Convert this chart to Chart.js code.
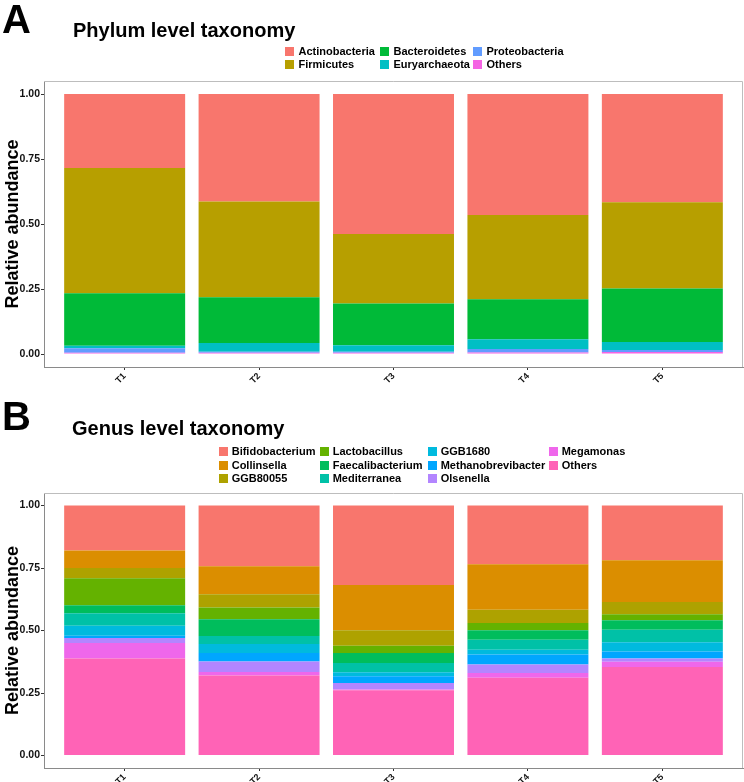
<!DOCTYPE html>
<html><head><meta charset="utf-8">
<script src="https://cdn.jsdelivr.net/npm/chart.js@4/dist/chart.umd.min.js"></script>
<style>
html,body{margin:0;padding:0;background:#fff;}
#wrap{position:relative;width:744px;height:782px;overflow:hidden;font-family:"Liberation Sans",Arial,sans-serif;background:#fff;}
canvas{position:absolute;left:0;}
.lbl{position:absolute;font-weight:bold;color:#000;white-space:nowrap;}
.letter{font-size:40px;line-height:40px;}
.title{font-size:20px;line-height:20px;}
.leg{position:absolute;font-size:11px;line-height:11px;font-weight:bold;white-space:nowrap;color:#000;}
.leg i{position:absolute;left:0;width:9px;height:9px;}
.leg span{position:absolute;top:0;}
</style></head>
<body>
<div id="wrap">
  <div id="cA" style="position:absolute;left:0;top:0;width:744px;height:395px;"><canvas id="chartA" width="744" height="395"></canvas></div>
  <div id="cB" style="position:absolute;left:0;top:395px;width:744px;height:387px;"><canvas id="chartB" width="744" height="387"></canvas></div>
  <div class="lbl letter" style="left:2px;top:-1px;">A</div>
  <div class="lbl title" style="left:73px;top:20px;">Phylum level taxonomy</div>
  <div class="lbl letter" style="left:2px;top:396px;">B</div>
  <div class="lbl title" style="left:72px;top:418px;">Genus level taxonomy</div>
</div>
<script>
// ---------- DATA ----------
const samples = ["T1", "T2", "T3", "T4", "T5"];
const yTicks = [0, 0.25, 0.5, 0.75, 1];

// Panel A: phylum (legend order)
const phylumNames = ["Actinobacteria", "Firmicutes", "Bacteroidetes", "Euryarchaeota", "Proteobacteria", "Others"];
const phylumColors = ["#F8766D", "#B79F00", "#00BA38", "#00BFC4", "#619CFF", "#F564E3"];
const actinobacteria = [0.285, 0.413, 0.538, 0.465, 0.416];
const firmicutes     = [0.481, 0.369, 0.268, 0.324, 0.332];
const bacteroidetes  = [0.202, 0.176, 0.160, 0.154, 0.206];
const euryarchaeota  = [0.010, 0.033, 0.025, 0.038, 0.031];
const proteobacteria = [0.017, 0.004, 0.004, 0.013, 0.007];
const phylumOthers   = [0.005, 0.005, 0.005, 0.006, 0.008];
const phylumValues = [actinobacteria, firmicutes, bacteroidetes, euryarchaeota, proteobacteria, phylumOthers];

// Panel B: genus (legend order)
const genusNames = ["Bifidobacterium", "Collinsella", "GGB80055", "Lactobacillus", "Faecalibacterium", "Mediterranea", "GGB1680", "Methanobrevibacter", "Olsenella", "Megamonas", "Others"];
const genusColors = ["#F8766D", "#DB8E00", "#AEA200", "#64B200", "#00BD5C", "#00C1A7", "#00BADE", "#00A6FF", "#B385FF", "#EF67EB", "#FF63B6"];
const bifidobacterium    = [0.180, 0.243, 0.318, 0.235, 0.219];
const collinsella        = [0.070, 0.112, 0.181, 0.182, 0.167];
const ggb80055           = [0.041, 0.053, 0.062, 0.053, 0.049];
const lactobacillus      = [0.108, 0.047, 0.029, 0.029, 0.024];
const faecalibacterium   = [0.032, 0.067, 0.040, 0.038, 0.038];
const mediterranea       = [0.050, 0.032, 0.037, 0.040, 0.050];
const ggb1680            = [0.040, 0.036, 0.016, 0.019, 0.037];
const methanobrevibacter = [0.009, 0.034, 0.027, 0.040, 0.028];
const olsenella          = [0.020, 0.042, 0.026, 0.034, 0.013];
const megamonas          = [0.062, 0.014, 0.003, 0.019, 0.021];
const genusOthers        = [0.388, 0.320, 0.261, 0.311, 0.354];
const genusValues = [bifidobacterium, collinsella, ggb80055, lactobacillus, faecalibacterium, mediterranea, ggb1680, methanobrevibacter, olsenella, megamonas, genusOthers];

// ---------- LEGENDS (HTML) ----------
function legend(names, colors, rows, colX, rowY, textOff) {
  const wrap = document.getElementById('wrap');
  names.forEach((n, i) => {
    const c = Math.floor(i / rows), r = i % rows;
    const d = document.createElement('div');
    d.className = 'leg';
    d.style.left = colX[c] + 'px';
    d.style.top = (rowY[r] - 5.5) + 'px';
    d.innerHTML = '<i style="background:' + colors[i] + ';top:1px"></i><span style="left:' + textOff + 'px">' + n + '</span>';
    wrap.appendChild(d);
  });
}
legend(phylumNames, phylumColors, 2, [285, 380, 473], [51, 64.5], 13.5);
legend(genusNames, genusColors, 3, [219, 320, 428, 549], [451, 465, 478.5], 12.7);

// ---------- CHARTS ----------
const framePlugin = {
  id: 'frame',
  afterDraw(chart) {
    const a = chart.chartArea, ctx = chart.ctx;
    ctx.save();
    ctx.strokeStyle = '#bdbdbd';
    ctx.lineWidth = 1;
    ctx.beginPath();
    ctx.moveTo(a.left, a.top + 0.5); ctx.lineTo(a.right - 0.5, a.top + 0.5); ctx.lineTo(a.right - 0.5, a.bottom);
    ctx.stroke();
    ctx.restore();
  }
};

function makeChart(id, names, colors, values, padTop, xAxisH) {
  const datasets = [];
  for (let k = names.length - 1; k >= 0; k--) {
    datasets.push({
      label: names[k],
      data: values[k].map((v, i) => ({ x: i + 1, y: v })),
      backgroundColor: colors[k],
      borderWidth: 0,
      barPercentage: 0.9,
      categoryPercentage: 1.0
    });
  }
  return new Chart(document.getElementById(id), {
    type: 'bar',
    data: { datasets },
    plugins: [framePlugin],
    options: {
      responsive: false,
      animation: false,
      events: [],
      layout: { padding: { top: padTop, right: 1, left: 0, bottom: 0 } },
      plugins: { legend: { display: false }, title: { display: false }, tooltip: { enabled: false } },
      scales: {
        x: {
          type: 'linear', stacked: true, offset: false, min: 0.4, max: 5.6,
          afterBuildTicks(s) { s.ticks = samples.map((_, i) => ({ value: i + 1 })); },
          afterFit(s) { s.height = xAxisH; },
          grid: { display: true, drawOnChartArea: false, offset: false, tickLength: 3, color: '#333' },
          border: { display: true, color: '#8a8a8a', width: 1 },
          ticks: {
            autoSkip: false, maxRotation: 45, minRotation: 45, padding: 1,
            color: '#111', font: { family: 'Liberation Sans', size: 9, weight: 'bold' },
            callback: (v) => samples[Math.round(v) - 1] || ''
          }
        },
        y: {
          type: 'linear', stacked: true, min: -0.05, max: 1.05,
          afterBuildTicks(s) { s.ticks = yTicks.map(v => ({ value: v })); },
          afterFit(s) { s.width = 44; },
          grid: { display: true, drawOnChartArea: false, tickLength: 3, color: '#333' },
          border: { display: true, color: '#8a8a8a', width: 1 },
          ticks: {
            padding: 1, color: '#111', font: { family: 'Liberation Sans', size: 10.5, weight: 'bold' },
            callback: (v) => Number(v).toFixed(2)
          },
          title: {
            display: true, text: 'Relative abundance', color: '#000',
            font: { family: 'Liberation Sans', size: 18, weight: 'bold', lineHeight: 1.0 }, padding: { top: 4, bottom: 0 }
          }
        }
      }
    }
  });
}

makeChart('chartA', phylumNames, phylumColors, phylumValues, 81, 28);
makeChart('chartB', genusNames, genusColors, genusValues, 98, 14);
</script>
</body></html>
